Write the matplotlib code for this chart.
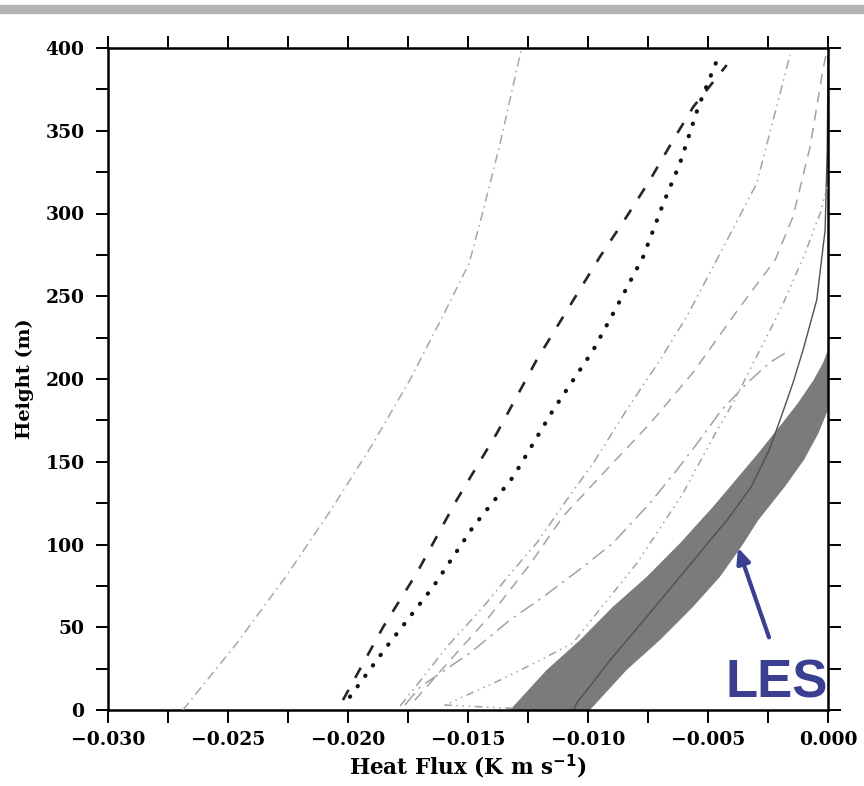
import matplotlib
matplotlib.use("Agg")
import matplotlib.pyplot as plt
from matplotlib.patches import Rectangle
from matplotlib.ticker import MultipleLocator, FuncFormatter

plt.rcParams['font.family'] = ['DejaVu Serif']
plt.rcParams['font.weight'] = 'bold'

# ---------------- data ----------------
far_y = [0, 40, 80, 120, 160, 200, 240, 270, 300, 340, 399]
far_x = [-0.02688, -0.02465, -0.02262, -0.02075, -0.01900, -0.01740, -0.01598, -0.01495, -0.01440, -0.01370, -0.01278]

dash_y = [6.0, 50.3, 82.6, 126.9, 167.2, 211.5, 247.7, 273.9, 298.1, 320.2, 344.4, 364.5, 389.7]
dash_x = [-0.02021, -0.01853, -0.01714, -0.01547, -0.01380, -0.01214, -0.01061, -0.00950, -0.00839, -0.00742, -0.00645, -0.00561, -0.00422]

dot_y = [8.0, 38.2, 74.5, 110.8, 141.0, 181.3, 217.5, 243.7, 273.9, 306.2, 330.3, 364.5, 394.7]
dot_x = [-0.01992, -0.01839, -0.01645, -0.01478, -0.01311, -0.01145, -0.00978, -0.00880, -0.00770, -0.00686, -0.00617, -0.00540, -0.00457]

g1_y = [2.4, 20, 38, 62.4, 84.6, 100.9, 126.9, 149.2, 181.3, 211.5, 237.6, 271.9, 318.2, 395.8]
g1_x = [-0.01783, -0.01686, -0.01589, -0.01436, -0.01311, -0.01214, -0.01089, -0.00978, -0.00839, -0.00700, -0.00589, -0.00464, -0.00297, -0.00158]

gb_y = [6, 30, 57, 88, 117, 141, 173, 204, 243.5, 272, 298, 340, 387, 396]
gb_x = [-0.01721, -0.01575, -0.01408, -0.01242, -0.01104, -0.00950, -0.00742, -0.00562, -0.00367, -0.00220, -0.00146, -0.00075, -0.00021, -0.00008]

gl2_y = [3, 13.9, 34.4, 54.4, 68.3, 86.4, 100.9, 125, 145, 163, 181, 197.6, 210, 217.5]
gl2_x = [-0.01763, -0.01700, -0.01492, -0.01325, -0.01187, -0.01021, -0.00896, -0.00742, -0.00630, -0.00535, -0.00445, -0.00337, -0.00242, -0.00158]

gc_y = [1, 3, 18, 30, 40.5, 64.7, 88.8, 107, 131, 167, 187, 211.5, 231.4, 247.7, 276, 300, 316]
gc_x = [-0.01313, -0.01596, -0.01367, -0.01200, -0.01063, -0.00929, -0.00796, -0.00713, -0.00604, -0.00470, -0.00390, -0.00305, -0.00235, -0.00180, -0.00096, -0.00033, -0.00004]

les_lo_y = [0, 24.2, 42.3, 62.4, 80.5, 100.7, 122.8, 132.9, 155.3, 173.4, 185.5, 199.4, 210, 217.5]
les_lo_x = [-0.01325, -0.01172, -0.01033, -0.00896, -0.00755, -0.00617, -0.00479, -0.00420, -0.00290, -0.00190, -0.00125, -0.00060, -0.00020, 0.0]
les_hi_y = [0, 24.2, 42.3, 62.4, 80.5, 100, 114.8, 134.9, 151.1, 167.2, 181.3]
les_hi_x = [-0.00992, -0.00839, -0.00700, -0.00562, -0.00450, -0.00355, -0.00290, -0.00180, -0.00100, -0.00040, 0.0]

les_y = [0, 4.2, 32.2, 56.4, 80.5, 104.7, 114.8, 134.9, 157.1, 177.2, 197.6, 217.5, 247.7, 290, 340, 395]
les_x = [-0.0106, -0.01047, -0.00896, -0.00755, -0.00617, -0.00479, -0.00420, -0.00320, -0.00245, -0.00195, -0.00146, -0.00104, -0.00047, -0.00012, -0.00003, 0.0]

x_ticks = [-0.030, -0.025, -0.020, -0.015, -0.010, -0.005, 0.000]
y_ticks = [0, 50, 100, 150, 200, 250, 300, 350, 400]

# ---------------- figure ----------------
fig = plt.figure(figsize=(8.64, 7.86), dpi=100)
fig.patches.append(Rectangle((0, 1 - 13/786), 1, 8/786, transform=fig.transFigure,
                             color='#b4b4b4', zorder=0))
ax = fig.add_axes([108/864, 76/786, 720/864, 662/786])

# LES band
band_x = les_lo_x + les_hi_x[::-1]
band_y = les_lo_y + les_hi_y[::-1]
ax.fill(band_x, band_y, color='#7b7b7b', lw=0, zorder=1)
ax.plot(les_x, les_y, color='#505050', lw=1.0, zorder=2)

gray = '#a2a2a2'
ax.plot(far_x, far_y, color='#a8a8a8', lw=1.1, dashes=(6, 3, 1, 3), zorder=3)
ax.plot(g1_x, g1_y, color=gray, lw=1.1, dashes=(6, 3, 1, 3, 1, 3), zorder=3)
ax.plot(gb_x, gb_y, color=gray, lw=1.1, dashes=(7, 5), zorder=3)
ax.plot(gl2_x, gl2_y, color=gray, lw=1.1, dashes=(10, 4, 1.5, 4), zorder=3)
ax.plot(gc_x, gc_y, color=gray, lw=1.1, dashes=(5, 3, 1, 3, 1, 3, 1, 3), zorder=3)

ax.plot(dash_x, dash_y, color='#262626', lw=1.9, dashes=(4.4, 5.2), zorder=4)
ax.plot(dot_x, dot_y, color='#111111', lw=3.0, dashes=(0.1, 3.0),
        dash_capstyle='round', zorder=4)

ax.set_xlim(-0.030, 0.000)
ax.set_ylim(0, 400)
ax.set_xticks(x_ticks)
ax.xaxis.set_minor_locator(MultipleLocator(0.0025))
ax.set_yticks(y_ticks)
ax.yaxis.set_minor_locator(MultipleLocator(25))
ax.xaxis.set_major_formatter(FuncFormatter(lambda v, p: f'{v:.3f}'.replace('-', '\u2212')))

for which in ('major', 'minor'):
    ax.tick_params(which=which, direction='out', length=9, width=1.4,
                   top=True, right=True, color='black')
ax.tick_params(axis='x', which='major', pad=6, labelsize=13.5)
ax.tick_params(axis='y', which='major', pad=8, labelsize=13.5)
for s in ax.spines.values():
    s.set_linewidth(1.8)

ax.set_xlabel('Heat Flux (K m s$^{\\mathbf{-1}}$)', fontsize=15.5, fontweight='bold', labelpad=3)
ax.set_ylabel('Height (m)', fontsize=14, fontweight='bold', labelpad=8)

# LES annotation
les_col = '#3b3f91'
ax.annotate('', xy=(-0.00379, 99.7), xytext=(-0.00242, 42.3),
            arrowprops=dict(arrowstyle='-|>,head_length=0.9,head_width=0.4',
                            color=les_col, lw=3.0), zorder=6)
ax.text(-0.00213, 16.3, 'LES', color=les_col, fontsize=38, fontweight='bold',
        family=['Liberation Sans', 'DejaVu Sans'], ha='center', va='center', zorder=6)

fig.savefig('out.png', dpi=100)
